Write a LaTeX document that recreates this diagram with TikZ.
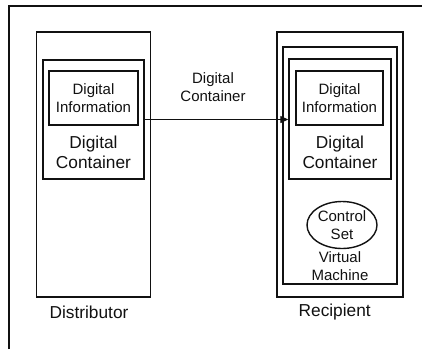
\documentclass[tikz,border=0pt]{standalone}
\usepackage{fontspec}
\setmainfont{Liberation Sans}
\usetikzlibrary{calc,arrows.meta,shapes.geometric}
\definecolor{ink}{HTML}{111111}
\tikzset{
  box/.style={draw=ink, line width=1.4pt, inner sep=0pt},
  big/.style={font=\fontsize{17.3}{20}\selectfont, align=center, text=ink},
  small/.style={font=\fontsize{15}{17.5}\selectfont, align=center, text=ink},
  arr/.style={draw=ink, line width=1.3pt, -{Triangle[length=8pt,width=7pt]}}
}
\newcommand{\BoxAt}[4]{% name, centre, width, height
  \node[box, minimum width=#3, minimum height=#4] (#1) at (#2) {};
}

\begin{document}
\begin{tikzpicture}[x=1pt,y=-1pt]
  \useasboundingbox (0,0) rectangle (422,349);
  % frame, cut by the page edge
  \draw[ink, line width=1.4pt] (9,349) -- (9,6) -- (422,6);

  % distributor side
  \BoxAt{dist}{93.7,164.5}{114pt}{265pt}
  \BoxAt{dcont}{93.5,119.5}{101pt}{119pt}
  \BoxAt{dinfo}{93.5,98}{89pt}{54pt}
  \node[small] (dinfot) at (dinfo) {Digital\\Information};
  \node[big] (dcontt) at (93.5,152) {Digital\\Container};
  \node[big] (distl) at (89,312) {Distributor};

  % recipient side
  \BoxAt{recp}{340,164.5}{126pt}{265pt}
  \BoxAt{vm}{340,165.5}{114pt}{237pt}
  \BoxAt{rcont}{340,119}{102pt}{120pt}
  \BoxAt{rinfo}{339.5,98}{87pt}{54pt}
  \node[small] (rinfot) at (rinfo) {Digital\\Information};
  \node[big] (rcontt) at (340,152) {Digital\\Container};
  \node[box, ellipse, minimum width=70pt, minimum height=47pt, small] (ctrl) at (342,225) {Control\\Set};
  \node[small] (vmt) at (340,266) {Virtual\\Machine};
  \node[big] (recpl) at (334.7,312) {Recipient};

  % transfer
  \coordinate (tip) at (dcont.east -| rcont.west);
  \draw[arr] (dcont.east) -- (tip);
  \node[small] (arrl) at (213,87) {Digital\\Container};
\end{tikzpicture}
\end{document}
